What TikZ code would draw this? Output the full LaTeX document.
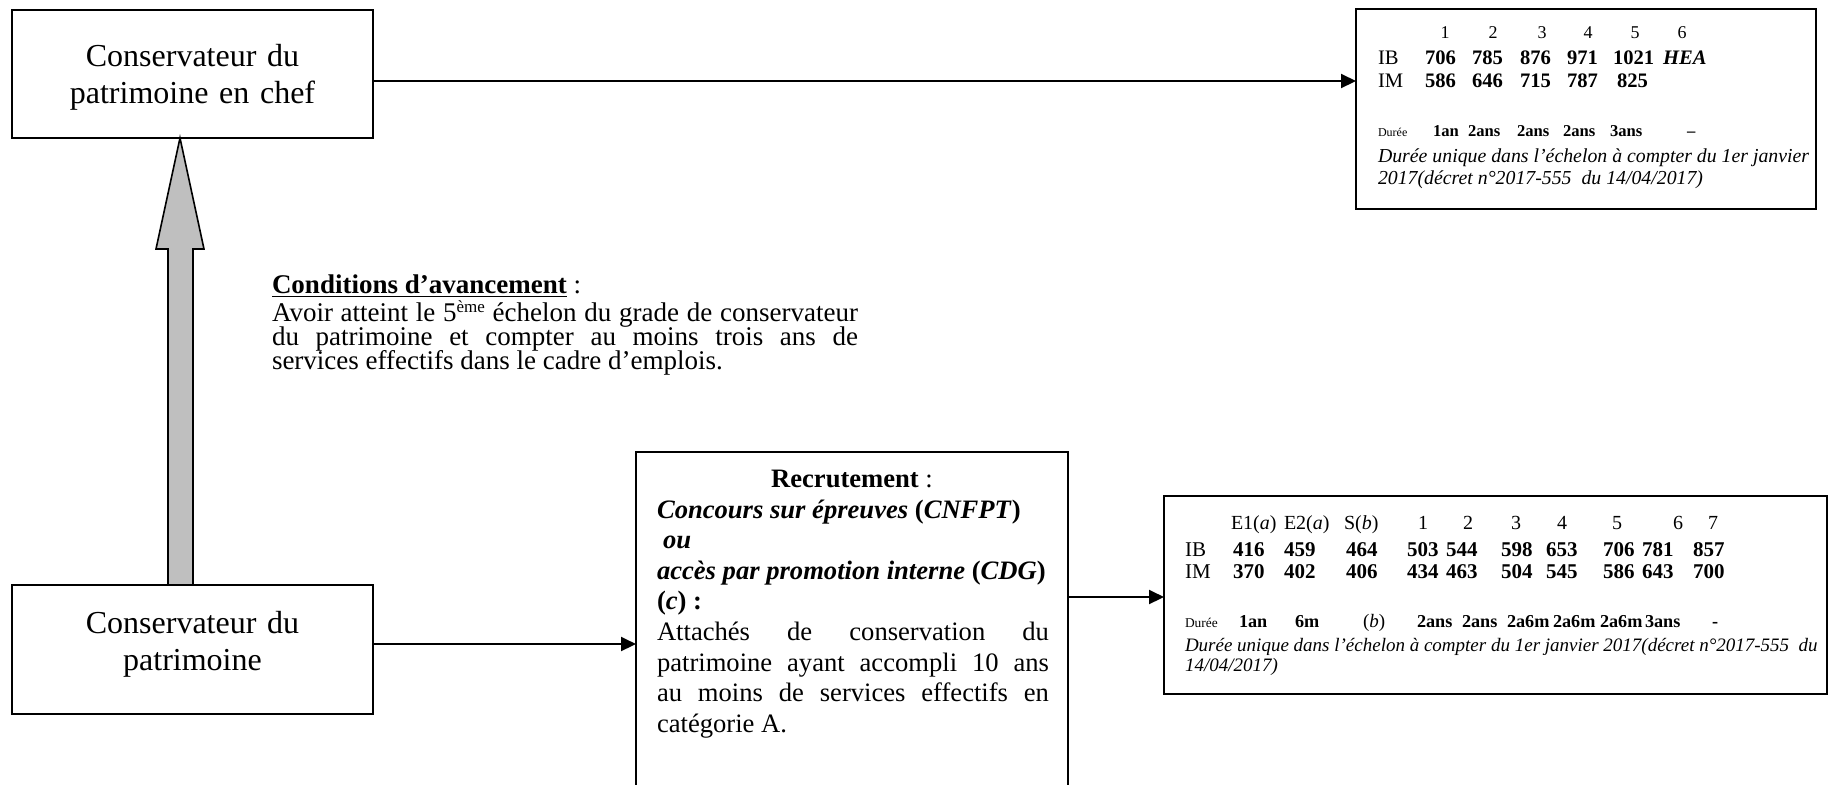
\documentclass[tikz,border=0pt]{standalone}
\usepackage{fontspec}
\setmainfont{Liberation Serif}
\usetikzlibrary{arrows.meta,calc}
\definecolor{blockgray}{RGB}{191,191,191}
\tikzset{
  box/.style={draw=black, line width=1pt, inner sep=0pt, outer sep=0pt},
  conn/.style={line width=1pt, -{Triangle[length=7.5pt,width=7pt]}},
  txt/.style={inner sep=0pt, outer sep=0pt},
  titletxt/.style={txt, text width=180pt, align=center, font=\fontsize{16}{18.5}\selectfont},
  bodytxt/.style={txt, font=\fontsize{13.3}{15.3}\selectfont},
  condtxt/.style={txt, anchor=base west, font=\fontsize{13.5}{12.2}\selectfont},
  hdA/.style={txt, anchor=base, font=\fontsize{9}{9}\selectfont},
  lbA/.style={txt, anchor=base west, font=\fontsize{10.3}{10.3}\selectfont},
  rwA/.style={txt, anchor=base west, font=\fontsize{10.3}{10.3}\selectfont\bfseries},
  dlA/.style={txt, anchor=base west, font=\fontsize{6}{6}\selectfont},
  dvA/.style={txt, anchor=base west, font=\fontsize{8.3}{8.3}\selectfont\bfseries},
  itA/.style={txt, anchor=base west, font=\fontsize{9.9}{11}\selectfont\itshape},
  hdB/.style={txt, font=\fontsize{10}{10}\selectfont},
  lbB/.style={txt, anchor=base west, font=\fontsize{10.5}{10.5}\selectfont},
  rwB/.style={txt, anchor=base west, font=\fontsize{10.5}{10.5}\selectfont\bfseries},
  dlB/.style={txt, anchor=base west, font=\fontsize{6.7}{6.7}\selectfont},
  dvB/.style={txt, anchor=base west, font=\fontsize{9.1}{9.1}\selectfont\bfseries},
  itB/.style={txt, anchor=base west, font=\fontsize{9.5}{11}\selectfont\itshape},
}
\begin{document}
\begin{tikzpicture}[x=0.5pt,y=-0.5pt]
\useasboundingbox (0,0) rectangle (1830,784);
\fill[white] (0,0) rectangle (1830,784);

% boxes
\node[box, minimum width=180.5pt, minimum height=64pt] (chef) at (192.5,74) {};
\node[box, minimum width=180.5pt, minimum height=64.5pt] (cons) at (192.5,649.5) {};
\node[box, minimum width=216pt, minimum height=174pt] (rec) at (852,626) {};
\node[box, minimum width=331.5pt, minimum height=99pt] (gridB) at (1495.5,595) {};
\node[box, minimum width=230pt, minimum height=100pt] (gridA) at (1586,109) {};

% titles
\node[titletxt, anchor=base] (chefT) at (192.5,66) {Conservateur du\\patrimoine en chef};
\node[titletxt, anchor=base] (consT) at (192.5,633) {Conservateur du\\patrimoine};

% block arrow
\coordinate (tx) at (180,0);
\coordinate (sa) at (168,0);
\coordinate (sb) at (193,0);
\coordinate (hb) at (0,249);
\filldraw[fill=blockgray, draw=black, line width=0.8pt, line join=miter]
  (tx |- chef.south) -- (204,249) -- (sb |- hb) -- (sb |- cons.north)
  -- (sa |- cons.north) -- (sa |- hb) -- (156,249) -- cycle;

% connectors
\coordinate (yA) at (0,81);
\coordinate (yB) at (0,644);
\coordinate (yC) at (0,597);
\draw[conn] (chef.east |- yA) -- (gridA.west |- yA);
\draw[conn] (cons.east |- yB) -- (rec.west |- yB);
\draw[conn] (rec.east |- yC) -- (gridB.west |- yC);

% conditions
\node[condtxt] (condH) at (272,293) {\underline{\textbf{Conditions d’avancement}} :};
\node[condtxt] (cond1) at (272,321) {\makebox[293pt][s]{Avoir atteint le 5\raisebox{4.2pt}{\fontsize{8.5}{8.5}\selectfont ème} échelon du grade de conservateur}};
\node[condtxt] (cond2) at (272,345) {\makebox[293pt][s]{du patrimoine et compter au moins trois ans de}};
\node[condtxt] (cond3) at (272,369) {services effectifs dans le cadre d’emplois.};

% recrutement
\node[bodytxt, anchor=base] (recT) at (852,487) {\textbf{Recrutement} :};
\node[bodytxt, anchor=base west, text width=196pt, align=justify] (recB) at (657,518)
 {\textbf{\textit{Concours sur épreuves} (\textit{CNFPT})}\\
  \hspace*{3pt}\textbf{\textit{ou}}\\
  \textbf{\textit{accès par promotion interne} (\textit{CDG})}\\
  \textbf{(\textit{c}) :}\\
  Attachés de conservation du\linebreak
  patrimoine ayant accompli 10 ans\linebreak
  au moins de services effectifs en\linebreak
  catégorie A.};

% grid A (en chef)
\foreach \x/\t [count=\i] in {1445/1,1493/2,1542/3,1588/4,1635/5,1682/6}
  \node[hdA] (ah\i) at (\x,38) {\t};
\node[lbA] (aIB) at (1378,64) {IB};
\foreach \x/\t [count=\i] in {1425/706,1472/785,1520/876,1567/971,1613/1021,1663/\textit{HEA}}
  \node[rwA] (ab\i) at (\x,64) {\t};
\node[lbA] (aIM) at (1378,87) {IM};
\foreach \x/\t [count=\i] in {1425/586,1472/646,1520/715,1567/787,1617/825}
  \node[rwA] (am\i) at (\x,87) {\t};
\node[dlA] (aDu) at (1378,136) {Durée};
\foreach \x/\t [count=\i] in {1433/1an,1468/2ans,1517/2ans,1563/2ans,1610/3ans,1687/–}
  \node[dvA] (ad\i) at (\x,136) {\t};
\node[itA] (ait1) at (1378,162) {Durée unique dans l’échelon à compter du 1er janvier};
\node[itA] (ait2) at (1378,184) {2017(décret n°2017-555\ \ du 14/04/2017)};

% grid B (conservateur)
\foreach \x/\t [count=\i] in {1231/E1(\textit{a}),1284/E2(\textit{a}),1344/S(\textit{b})}
  \node[hdB, anchor=base west] (bh\i) at (\x,529) {\t};
\foreach \x/\t [count=\i] in {1423/1,1468/2,1516/3,1562/4,1617/5,1678/6,1713/7}
  \node[hdB, anchor=base] (bn\i) at (\x,529) {\t};
\node[lbB] (bIB) at (1185,556) {IB};
\foreach \x/\t [count=\i] in {1233/416,1284/459,1346/464,1407/503,1446/544,1501/598,1546/653,1603/706,1642/781,1693/857}
  \node[rwB] (bb\i) at (\x,556) {\t};
\node[lbB] (bIM) at (1185,578) {IM};
\foreach \x/\t [count=\i] in {1233/370,1284/402,1346/406,1407/434,1446/463,1501/504,1546/545,1603/586,1642/643,1693/700}
  \node[rwB] (bm\i) at (\x,578) {\t};
\node[dlB] (bDu) at (1185,627) {Durée};
\foreach \x/\t [count=\i] in {1239/1an,1295/6m,1417/2ans,1462/2ans,1507/2a6m,1553/2a6m,1600/2a6m,1645/3ans,1712/-}
  \node[dvB] (bd\i) at (\x,627) {\t};
\node[lbB, font=\fontsize{9.5}{9.5}\selectfont] (bdb) at (1363,627) {(\textit{b})};
\node[itB] (bit1) at (1185,651) {Durée unique dans l’échelon à compter du 1er janvier 2017(décret n°2017-555\ \ du};
\node[itB] (bit2) at (1185,671) {14/04/2017)};
\end{tikzpicture}
\end{document}
